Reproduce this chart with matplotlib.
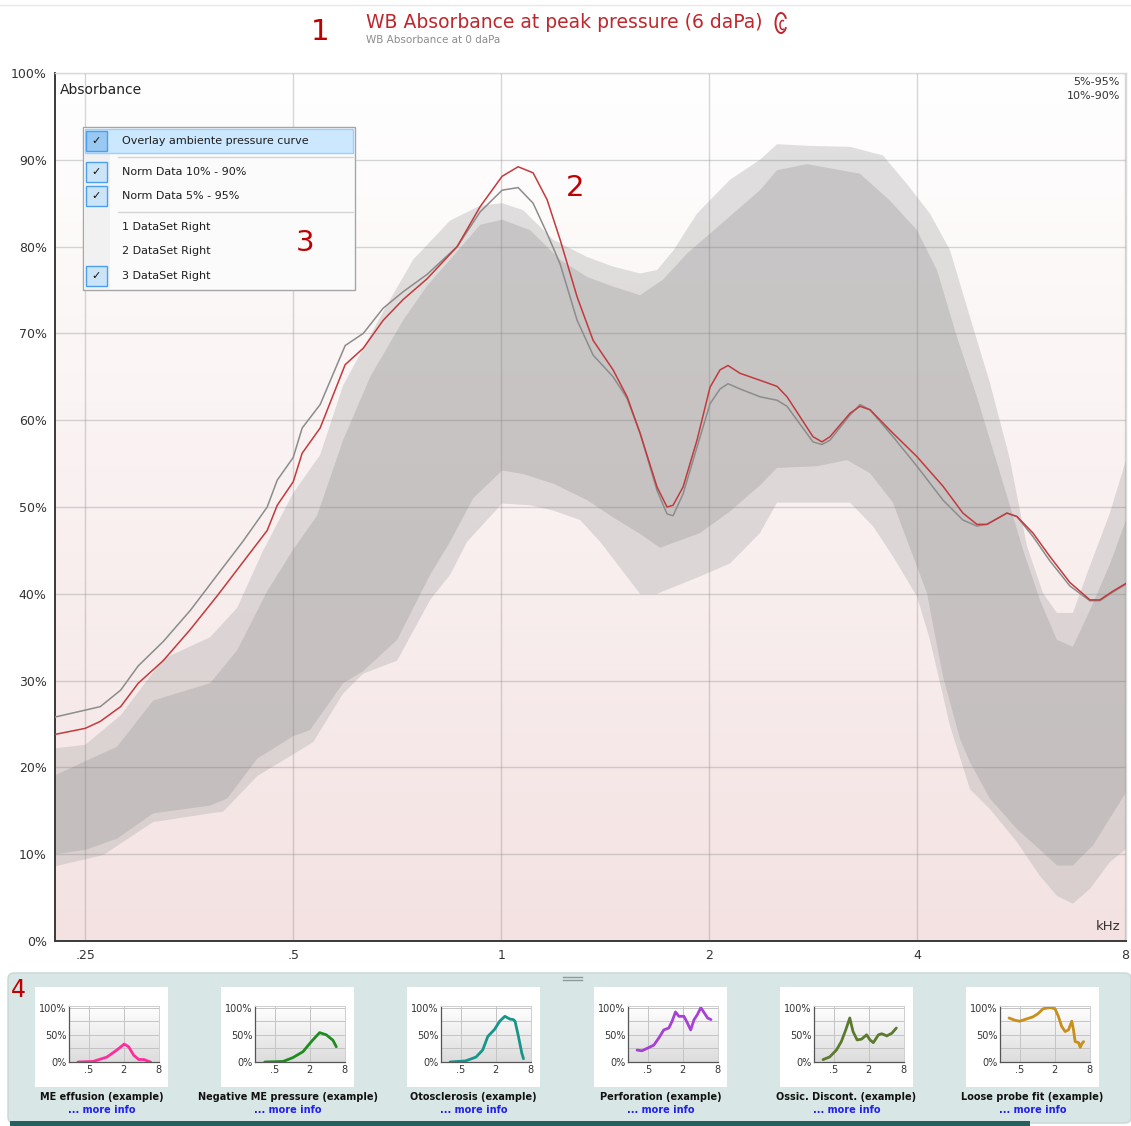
import numpy as np
import matplotlib
matplotlib.use("Agg")
import matplotlib.pyplot as plt
from matplotlib.colors import LinearSegmentedColormap
from matplotlib.patches import Rectangle, FancyBboxPatch, Arc
from matplotlib.ticker import NullLocator, FixedLocator

W, H = 1131, 1126

# ---------------- data ----------------
curve_freq = [0.226, 0.25, 0.2628, 0.2813, 0.2983, 0.3242, 0.3549, 0.3884, 0.4234, 0.4585,
              0.4741, 0.5, 0.5152, 0.547, 0.5946, 0.6316, 0.6748, 0.7213, 0.7814, 0.8637,
              0.9324, 1.0033, 1.0583, 1.1125, 1.1657, 1.2174, 1.2884, 1.3589, 1.4525, 1.522,
              1.5893, 1.6818, 1.7387, 1.774, 1.834, 1.9214, 2.0067, 2.0747, 2.1307, 2.2177,
              2.3704, 2.5087, 2.5937, 2.8284, 2.9144, 2.9935, 3.1999, 3.3084, 3.4206, 3.6929,
              4.0, 4.362, 4.6621, 4.885, 5.0508, 5.3998, 5.5828, 5.8889, 6.23, 6.6606,
              7.12, 7.3608, 7.6852, 8.03]
peak_pressure = [23.8, 24.5, 25.3, 27.0, 29.7, 32.3, 35.9, 39.8, 43.7, 47.3,
                 50.2, 52.9, 56.2, 59.1, 66.4, 68.3, 71.5, 73.9, 76.3, 80.0,
                 84.6, 88.1, 89.2, 88.5, 85.4, 80.8, 74.2, 69.2, 65.8, 62.7,
                 58.5, 52.3, 50.0, 50.2, 52.3, 57.7, 63.8, 65.8, 66.3, 65.4,
                 64.6, 63.9, 62.7, 58.1, 57.5, 58.1, 60.8, 61.6, 61.2, 58.5,
                 55.8, 52.4, 49.3, 48.0, 48.0, 49.3, 48.9, 47.0, 44.3, 41.3,
                 39.3, 39.3, 40.3, 41.2]
ambient_pressure = [25.8, 26.6, 27.0, 28.9, 31.7, 34.5, 38.1, 42.2, 46.1, 50.0,
                    53.1, 55.7, 59.1, 61.8, 68.6, 70.0, 72.9, 74.8, 76.8, 80.0,
                    84.0, 86.5, 86.8, 85.0, 81.5, 78.0, 71.5, 67.5, 65.0, 62.5,
                    58.5, 51.9, 49.2, 49.0, 51.5, 56.9, 61.9, 63.6, 64.2, 63.6,
                    62.7, 62.3, 61.6, 57.5, 57.2, 57.7, 60.6, 61.8, 61.2, 58.1,
                    54.7, 50.8, 48.5, 47.8, 48.0, 49.3, 48.9, 46.6, 43.8, 40.9,
                    39.2, 39.2, 40.2, 41.1]

p95_freq = [0.226, 0.25, 0.2813, 0.3242, 0.3791, 0.4149, 0.4525, 0.5, 0.547, 0.5905,
            0.6748, 0.7459, 0.8437, 0.9324, 1.0033, 1.0761, 1.1892, 1.3319, 1.4525, 1.5893,
            1.6818, 1.774, 1.9214, 2.145, 2.3704, 2.5087, 2.8002, 3.1999, 3.5718, 3.8693,
            4.1775, 4.4654, 4.773, 5.1015, 5.4528, 5.7717, 6.0886, 6.3788, 6.7272, 7.12,
            7.6105, 8.03]
p95 = [22.2, 22.6, 26.0, 32.5, 35.0, 38.4, 45.0, 51.6, 56.0, 64.0,
       72.5, 78.5, 83.0, 84.7, 85.0, 84.2, 80.8, 78.8, 77.7, 76.9,
       77.3, 79.5, 83.8, 87.7, 90.0, 91.8, 91.6, 91.5, 90.5, 87.2,
       83.8, 79.6, 71.9, 64.3, 55.5, 45.5, 40.1, 37.8, 37.8, 43.2,
       49.3, 55.4]

p90_freq = [0.226, 0.2781, 0.3135, 0.3791, 0.4149, 0.4585, 0.5, 0.5414, 0.5905, 0.6464,
            0.7213, 0.7814, 0.8437, 0.9324, 1.0033, 1.1014, 1.2174, 1.3319, 1.4525, 1.5893,
            1.7156, 1.8585, 2.0067, 2.3704, 2.5087, 2.7727, 3.3084, 3.6556, 4.0, 4.2756,
            4.5704, 4.885, 5.2217, 5.5081, 5.6958, 6.0264, 6.3788, 6.7272, 7.12, 7.6105,
            8.03]
p90 = [19.1, 22.4, 27.7, 29.7, 33.5, 40.3, 45.1, 49.0, 57.7, 65.0,
       71.5, 75.5, 78.5, 82.5, 83.1, 81.9, 78.5, 76.5, 75.4, 74.4,
       76.2, 79.2, 81.5, 86.5, 88.8, 89.5, 88.4, 85.3, 81.9, 77.3,
       69.6, 62.7, 55.1, 49.0, 45.1, 39.3, 34.7, 33.9, 38.1, 43.4,
       48.5]

p10_freq = [0.226, 0.25, 0.2781, 0.3135, 0.3791, 0.4013, 0.4435, 0.5, 0.529, 0.5905,
            0.6316, 0.7071, 0.7895, 0.8437, 0.911, 1.0033, 1.0761, 1.1892, 1.3319, 1.4525,
            1.5893, 1.6985, 1.9411, 2.145, 2.3704, 2.5087, 2.866, 3.1684, 3.4206, 3.6929,
            3.8181, 4.1351, 4.362, 4.6167, 4.773, 5.1015, 5.5828, 6.0886, 6.3788, 6.7272,
            7.1912, 8.03]
p10 = [10.0, 10.5, 11.8, 14.7, 15.6, 16.4, 21.0, 23.6, 24.3, 29.7,
       31.1, 34.7, 42.2, 46.0, 51.0, 54.2, 53.8, 52.7, 50.8, 48.8,
       46.9, 45.3, 47.0, 49.5, 52.5, 54.5, 54.7, 55.4, 53.9, 50.5,
       47.4, 40.1, 30.5, 23.3, 20.6, 16.4, 12.9, 10.2, 8.7, 8.7,
       11.0, 17.1]

p5_freq = [0.226, 0.2654, 0.3135, 0.3791, 0.396, 0.4435, 0.5, 0.5343, 0.5905, 0.6316,
           0.7071, 0.7895, 0.8437, 0.8929, 1.0033, 1.1014, 1.1892, 1.3013, 1.391, 1.5893,
           1.6818, 1.9411, 2.145, 2.3704, 2.5087, 3.1999, 3.4537, 3.6929, 4.0, 4.1775,
           4.4654, 4.773, 5.1015, 5.5828, 6.0264, 6.3788, 6.7272, 7.12, 7.6105, 8.03]
p5 = [8.6, 9.9, 13.7, 14.7, 14.9, 19.0, 21.5, 22.9, 28.5, 30.8,
      32.3, 39.3, 42.2, 46.0, 50.4, 50.2, 49.6, 48.5, 46.0, 40.0,
      40.0, 42.0, 43.5, 47.0, 50.5, 50.5, 47.8, 44.3, 39.7, 34.7,
      24.8, 17.5, 15.2, 11.4, 7.5, 5.2, 4.3, 6.0, 9.1, 10.6]

y_ticks = [0, 10, 20, 30, 40, 50, 60, 70, 80, 90, 100]
y_tick_labels = ["0%", "10%", "20%", "30%", "40%", "50%", "60%", "70%", "80%", "90%", "100%"]
x_ticks = [0.25, 0.5, 1, 2, 4, 8]
x_tick_labels = [".25", ".5", "1", "2", "4", "8"]

title_main = "WB Absorbance at peak pressure (6 daPa)"
title_sub = "WB Absorbance at 0 daPa"

legend_items = ["Overlay ambiente pressure curve", "Norm Data 10% - 90%", "Norm Data 5% - 95%",
                "1 DataSet Right", "2 DataSet Right", "3 DataSet Right"]
legend_checked = [True, True, True, False, False, True]

thumb_titles = ["ME effusion (example)", "Negative ME pressure (example)", "Otosclerosis (example)",
                "Perforation (example)", "Ossic. Discont. (example)", "Loose probe fit (example)"]
thumb_colors = ["#ff2d9b", "#1e8c1e", "#17958a", "#a640d6", "#5b7a2e", "#c8901a"]
thumb_freqs = [
    [0.33, 0.60, 1.03, 1.53, 2.05, 2.44, 2.98, 3.64, 4.45, 5.8],
    [0.34, 0.70, 1.03, 1.54, 2.14, 2.97, 3.87, 5.03, 5.74],
    [0.33, 0.61, 0.92, 1.2, 1.47, 1.92, 2.35, 2.88, 3.52, 4.03, 4.31, 4.93, 5.64, 6.02],
    [0.33, 0.40, 0.49, 0.64, 0.78, 0.95, 1.16, 1.32, 1.51, 1.73, 2.11, 2.41, 2.75, 3.15,
     3.6, 4.11, 4.69, 5.36, 6.13],
    [0.33, 0.43, 0.56, 0.68, 0.81, 0.95, 1.08, 1.27, 1.51, 1.85, 2.11, 2.41, 2.95, 3.36,
     4.11, 5.02, 5.98],
    [0.33, 0.41, 0.5, 0.65, 0.85, 1.04, 1.27, 1.66, 2.03, 2.32, 2.64, 3.03, 3.46, 3.94,
     4.22, 4.5, 5.15, 5.5, 5.9, 6.3],
]
thumb_values = [
    [0, 1, 9, 22, 33, 28, 12.5, 4.5, 4.5, 0],
    [0, 1, 8, 19, 37.5, 54, 50, 40, 28],
    [0, 2, 9, 22, 47, 60, 75, 84, 79, 78, 75, 47, 16, 6],
    [22, 20.6, 25, 31, 44, 59, 62.5, 75, 92, 84, 84, 72, 59, 78, 87.5, 100, 90.6, 81, 78],
    [4.4, 9.4, 22, 37.5, 59, 81, 56, 40.6, 42, 50, 40.6, 35.6, 50, 52, 48, 53, 62.5],
    [81, 77, 75, 79, 83, 89, 98, 100, 98, 84, 65.6, 56, 59, 75, 59, 37.5, 35.6, 27, 34, 37.5],
]
thumb_ticks = [0.5, 2, 8]
thumb_tick_labels = [".5", "2", "8"]

# ---------------- helpers ----------------
def fig_rect(x0, y0, x1, y1):
    return [x0 / W, 1 - y1 / H, (x1 - x0) / W, (y1 - y0) / H]


def gradient_axes(rect, top, bottom, z):
    bg = fig.add_axes(rect, zorder=z)
    cmap = LinearSegmentedColormap.from_list("g", [bottom, top])
    bg.imshow(np.linspace(0, 1, 256)[:, None], cmap=cmap, aspect="auto",
              origin="lower", extent=[0, 1, 0, 1])
    bg.set_xlim(0, 1)
    bg.set_ylim(0, 1)
    bg.axis("off")
    return bg


fig = plt.figure(figsize=(W / 100, H / 100), dpi=100)
fig.patch.set_facecolor("white")

# ---------------- main chart ----------------
main_rect = fig_rect(55, 73, 1126, 941)
gradient_axes(main_rect, "#ffffff", "#f4e2e2", 0)
ax = fig.add_axes(main_rect, zorder=1)
ax.patch.set_alpha(0)
ax.set_xscale("log", base=2)

ax.fill(np.r_[p95_freq, p5_freq[::-1]], np.r_[p95, p5[::-1]],
        color="#b4b2b2", alpha=0.40, lw=0)
ax.fill(np.r_[p90_freq, p10_freq[::-1]], np.r_[p90, p10[::-1]],
        color="#a8a6a6", alpha=0.42, lw=0)

ax.plot(curve_freq, ambient_pressure, color="#8c8c8c", lw=1.1, zorder=3)
ax.plot(curve_freq, peak_pressure, color="#c23a3c", lw=1.1, zorder=4)

ax.set_xlim(0.226, 8.03)
ax.set_ylim(0, 100)
ax.xaxis.set_major_locator(FixedLocator(x_ticks))
ax.xaxis.set_minor_locator(NullLocator())
ax.set_xticklabels(x_tick_labels)
ax.set_yticks(y_ticks)
ax.set_yticklabels(y_tick_labels)
ax.tick_params(length=0, labelsize=9, colors="#333333")
ax.tick_params(axis="y", pad=6)
ax.tick_params(axis="x", pad=6)
ax.grid(True, color="#7a7a7a", alpha=0.3, lw=1.0)
for s in ["top", "right"]:
    ax.spines[s].set_color("#d9d9d9")
    ax.spines[s].set_linewidth(1.0)
for s in ["left", "bottom"]:
    ax.spines[s].set_color("#3a3a3a")
    ax.spines[s].set_linewidth(1.4)

# ---------------- overlay (pixel coordinates) ----------------
ov = fig.add_axes([0, 0, 1, 1], zorder=5)
ov.set_xlim(0, W)
ov.set_ylim(H, 0)
ov.axis("off")
ov.patch.set_alpha(0)

ov.plot([0, W], [5, 5], color="#e8e8e8", lw=1)
ov.text(366, 23, title_main, color="#c0272d", fontsize=13.5, va="center", ha="left")
ov.text(366, 40, title_sub, color="#8c8c8c", fontsize=7.5, va="center", ha="left")
ov.add_patch(Arc((781, 23), 11, 20, theta1=40, theta2=320, color="#c0272d", lw=1.4))
ov.add_patch(Arc((782.5, 25), 5, 9, theta1=70, theta2=290, color="#c0272d", lw=1.1))

red_num = "#c00000"
ov.text(320, 32, "1", color=red_num, fontsize=21, ha="center", va="center")
ov.text(575, 188, "2", color=red_num, fontsize=21, ha="center", va="center")
ov.text(305, 243, "3", color=red_num, fontsize=21, ha="center", va="center")
ov.text(18, 990, "4", color=red_num, fontsize=17, ha="center", va="center")

ov.text(60, 90, "Absorbance", fontsize=10, color="#222222", ha="left", va="center")
ov.text(1120, 82, "5%-95%", fontsize=8, color="#333333", ha="right", va="center")
ov.text(1120, 96, "10%-90%", fontsize=8, color="#333333", ha="right", va="center")
ov.text(1120, 927, "kHz", fontsize=9.5, color="#333333", ha="right", va="center")

# legend / context menu
ov.add_patch(Rectangle((83, 127), 272, 163, fc="#fbfbfb", ec="#a6a6a6", lw=1, zorder=1))
ov.add_patch(Rectangle((84, 128), 26, 161, fc="#f1f1f1", ec="none", zorder=1.1))
ov.add_patch(Rectangle((84.5, 129), 268.5, 24, fc="#cce8ff", ec="#99d1ff", lw=1, zorder=1.2))
ov.plot([118, 353], [157, 157], color="#d4d4d4", lw=1, zorder=1.3)
ov.plot([118, 353], [212, 212], color="#d4d4d4", lw=1, zorder=1.3)
item_y = [141, 172, 196, 227, 251, 276]
for txt, yy, chk in zip(legend_items, item_y, legend_checked):
    ov.text(122, yy, txt, fontsize=8, color="#1e1e1e", ha="left", va="center", zorder=2)
    if chk:
        fc = "#99c9f2" if yy == item_y[0] else "#cce4f7"
        ov.add_patch(Rectangle((86, yy - 10), 21, 20, fc=fc, ec="#4aa0ee", lw=1, zorder=1.5))
        ov.text(96.5, yy, "\u2713", fontsize=8, color="#111111", ha="center", va="center", zorder=2)

# ---------------- bottom panel ----------------
ov.add_patch(FancyBboxPatch((8, 973), 1123, 150, boxstyle="round,pad=0,rounding_size=6",
                            fc="#d9e6e6", ec="#c8d6d6", lw=1, zorder=0.5))
ov.plot([563, 582], [977, 977], color="#8e9a9a", lw=1, zorder=0.6)
ov.plot([563, 582], [980, 980], color="#8e9a9a", lw=1, zorder=0.6)
ov.add_patch(Rectangle((10, 1121), 1020, 6, fc="#256060", ec="none", zorder=0.6))

box_x = [35, 221, 407, 594, 780, 966]
for i, x0 in enumerate(box_x):
    ov.add_patch(Rectangle((x0, 987), 133, 100, fc="white", ec="none", zorder=0.7))
    cx = x0 + 66.5
    ov.text(cx, 1097, thumb_titles[i], fontsize=7, fontweight="bold", color="#111111",
            ha="center", va="center", zorder=1)
    ov.text(cx, 1110, "... more info", fontsize=7, fontweight="bold", color="#2020ee",
            ha="center", va="center", zorder=1)
    # mini chart
    rect = fig_rect(x0 + 34, 1006, x0 + 124, 1062)
    gradient_axes(rect, "#ffffff", "#dcdcdc", 6)
    m = fig.add_axes(rect, zorder=7)
    m.patch.set_alpha(0)
    m.set_xscale("log", base=2)
    m.plot(thumb_freqs[i], thumb_values[i], color=thumb_colors[i], lw=2.0,
           solid_capstyle="round", solid_joinstyle="round")
    m.set_xlim(0.231, 8.1)
    m.set_ylim(0, 103)
    m.xaxis.set_major_locator(FixedLocator(thumb_ticks))
    m.xaxis.set_minor_locator(NullLocator())
    m.set_xticklabels(thumb_tick_labels)
    m.set_yticks([0, 50, 100])
    m.set_yticklabels(["0%", "50%", "100%"])
    m.yaxis.set_minor_locator(FixedLocator([25, 75]))
    m.tick_params(length=0, labelsize=7, colors="#333333", pad=2)
    m.tick_params(which="minor", length=0)
    m.grid(True, which="both", color="#c4c4c4", lw=0.7)
    for s in ["top", "right"]:
        m.spines[s].set_color("#cfcfcf")
        m.spines[s].set_linewidth(0.7)
    for s in ["left", "bottom"]:
        m.spines[s].set_color("#555555")
        m.spines[s].set_linewidth(0.9)

fig.savefig("out.png", dpi=100, facecolor="white")
